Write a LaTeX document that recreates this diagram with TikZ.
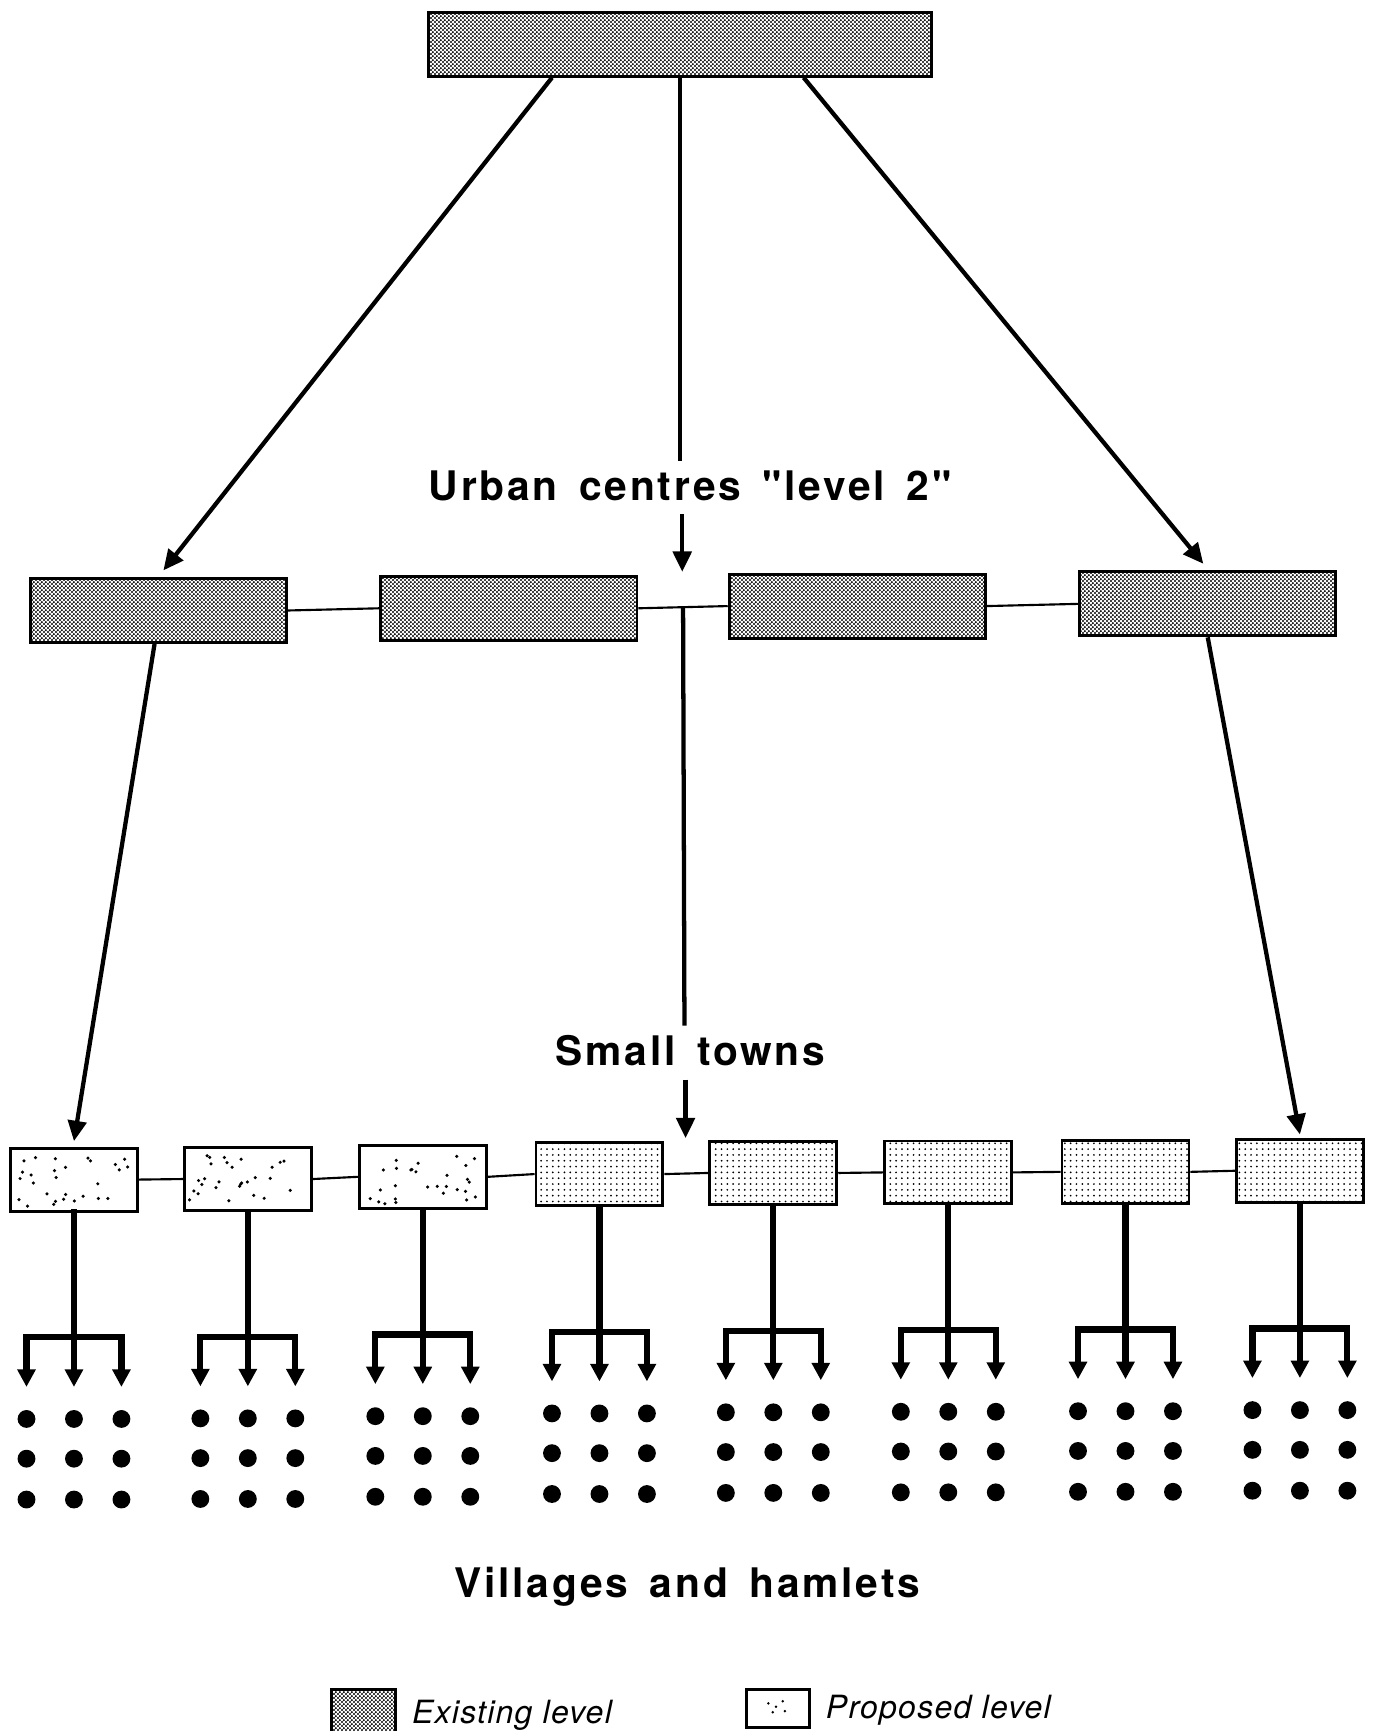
\documentclass[tikz,border=0pt]{standalone}
\usepackage{fontspec}
\usetikzlibrary{arrows.meta,patterns,patterns.meta,calc}
\newfontfamily\lblfont[LetterSpace=7,WordSpace=1.5]{TeX Gyre Heros}
\newfontfamily\keyfont[LetterSpace=4]{TeX Gyre Heros}

\tikzdeclarepattern{
	name=halftone,
	bottom left={(0pt,0pt)},
	top right={(2pt,2pt)},
	tile size={(2pt,2pt)},
	code={
		\fill (0.5pt,0.5pt) circle (0.6pt);
		\fill (1.5pt,1.5pt) circle (0.6pt);
	}
}

\tikzset{
	exbox/.style={draw, line width=1.5pt, pattern=halftone, inner sep=0pt},
	topbox/.style={exbox, minimum width=9.12cm, minimum height=1.16cm},
	urbbox/.style={exbox, minimum width=4.64cm, minimum height=1.16cm},
	twnbox/.style={draw, line width=1.5pt, inner sep=0pt, minimum width=2.3cm, minimum height=1.14cm},
	newbox/.style={twnbox, fill=white},
	dotbox/.style={twnbox, pattern=dots},
	link/.style={line width=1.1pt},
	mainline/.style={line width=2.2pt},
	mainarrow/.style={mainline, -{Triangle[length=10.5pt,width=9.5pt]}},
	stem/.style={line width=3.2pt, line cap=rect},
	stemarrow/.style={stem, -{Triangle[length=9pt,width=9pt]}},
	village/.style={circle, fill, inner sep=0pt, minimum size=9.2pt},
	caption/.style={font=\lblfont\bfseries\fontsize{21}{25}\selectfont},
	keytext/.style={font=\keyfont\itshape\fontsize{16.5}{20}\selectfont}
}

\begin{document}
\begin{tikzpicture}[x=0.02cm, y=-0.02cm]
		\useasboundingbox (0,0) rectangle (1243,1568);

		\node[topbox] (top) at (616,40) {};

		\node[urbbox] (u1) at (143.5,553) {};
		\node[urbbox] (u2) at (461,551) {};
		\node[urbbox] (u3) at (776.5,549) {};
		\node[urbbox] (u4) at (1094,547) {};
			\draw[link] (u1.east) -- (u2.west);
			\draw[link] (u2.east) -- (u3.west);
			\draw[link] (u3.east) -- (u4.west);

		\foreach \i/\x/\y/\kind in {1/67/1068.5/newbox, 2/224.5/1068/newbox, 3/383/1066/newbox,
				4/543/1063.5/dotbox, 5/700.5/1062.5/dotbox, 6/859/1062/dotbox,
				7/1019.5/1061.5/dotbox, 8/1177.5/1060.5/dotbox}
			\node[\kind] (s\i) at (\x,\y) {};
		\foreach \i [evaluate=\i as \j using int(\i+1)] in {1,...,7}
			\draw[link] (s\i.east) -- (s\j.west);

		\pgfmathsetseed{7}
		\foreach \i in {1,2,3}
			\foreach \n in {1,...,28}
				\fill ($(s\i.south west)+({6+103*rnd},{-5-46*rnd})$) circle (0.9pt);

		\node[caption, anchor=base] (urban) at (625,453) {Urban centres "level 2"};
		\node[caption, anchor=base] (towns) at (625.5,965) {Small towns};
		\node[caption, anchor=base] (vill) at (622.5,1447) {Villages and hamlets};

		\coordinate (c1) at (616,418);
		\coordinate (a1) at (618,466);
		\coordinate (a2) at (618,518);
		\coordinate (j1) at ($(u2.east)!0.5!(u3.west)$);
		\coordinate (c2) at (620,929);
		\coordinate (a3) at (621,978);
		\coordinate (a4) at (621,1031);

		\draw[mainarrow] ([xshift=-2.32cm]top.south) -- ([xshift=0.09cm,yshift=0.12cm]u1.north);
		\draw[mainarrow] ([xshift=2.24cm]top.south) -- ([xshift=-0.08cm,yshift=0.12cm]u4.north);
		\draw[mainline] (top.south) -- (c1);
		\draw[mainarrow] (a1) -- (a2);
		\draw[mainline] (j1) -- (c2);
		\draw[mainarrow] (a3) -- (a4);
		\draw[mainarrow] ([xshift=-0.07cm]u1.south) -- ([yshift=0.1cm]s1.north);
		\draw[mainarrow] (u4.south) -- ([yshift=0.06cm]s8.north);

		\foreach \i in {1,...,8} {
			\coordinate (b\i) at ($(s\i.south)+(0,113)$);
			\draw[stem] (s\i.south) -- (b\i);
			\draw[stem] ($(b\i)+(-43,0)$) -- ($(b\i)+(43,0)$);
			\foreach \c/\dx in {l/-43,m/0,r/43} {
				\coordinate (t\i\c) at ($(b\i)+(\dx,45)$);
				\draw[stemarrow] ($(b\i)+(\dx,0)$) -- (t\i\c);
			}
			\foreach \r/\dy in {1/187,2/223,3/260}
				\foreach \c/\dx in {1/-43,2/0,3/43}
					\node[village] (v\i-\r-\c) at ($(s\i.south)+(\dx,\dy)$) {};
		}

		\node[exbox, minimum width=1.16cm, minimum height=0.9cm] (kexbox) at (329,1552.5) {};
		\node[twnbox, minimum width=1.14cm, minimum height=0.7cm] (kprbox) at (704.5,1547.5) {};
			\fill (696,1543) circle (0.7pt) (703,1546) circle (0.7pt) (709,1541) circle (0.7pt)
				(711,1550) circle (0.7pt) (700,1551) circle (0.7pt);
		\node[keytext, anchor=base west] (kex) at (367,1561) {Existing level};
		\node[keytext, anchor=base west] (kpr) at (742,1557) {Proposed level};

\end{tikzpicture}
\end{document}
